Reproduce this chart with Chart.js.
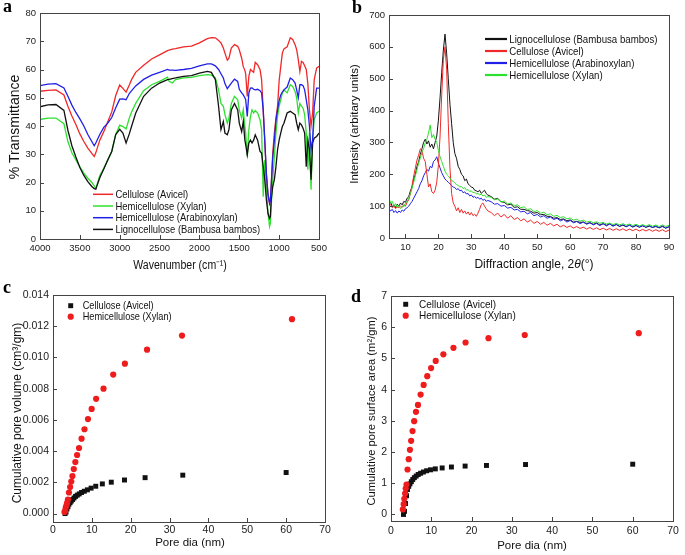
<!DOCTYPE html>
<html>
<head>
<meta charset="utf-8">
<script src="https://cdn.jsdelivr.net/npm/chart.js@4.4.1/dist/chart.umd.min.js"></script>
<style>
  body { margin: 0; background: #fff; width: 685px; height: 555px; position: relative; overflow: hidden; }
  canvas { position: absolute; }
  .tag { position: absolute; font: bold 18px "Liberation Serif", "Times New Roman", serif; line-height: 18px; color: #000; }
</style>
</head>
<body>
<canvas id="ftirChart" width="340" height="280" style="left:0;top:0"></canvas>
<canvas id="xrdChart" width="345" height="280" style="left:340px;top:0"></canvas>
<canvas id="volChart" width="340" height="280" style="left:0;top:275px"></canvas>
<canvas id="areaChart" width="345" height="280" style="left:340px;top:275px"></canvas>
<div class="tag" style="left:3px;top:-3px">a</div>
<div class="tag" style="left:352px;top:-2px">b</div>
<div class="tag" style="left:3px;top:278px">c</div>
<div class="tag" style="left:351px;top:287px">d</div>

<script>
/* ---------- (a) FTIR ---------- */
const wavenumbers = [4000, 3900, 3800, 3700, 3650, 3600, 3550, 3500, 3450, 3400, 3350, 3320, 3300, 3250, 3200, 3150, 3100, 3050, 3000, 2960,
  2920, 2880, 2850, 2800, 2700, 2600, 2500, 2400, 2380, 2340, 2300, 2200, 2100, 2000, 1900, 1850, 1800, 1760, 1730, 1700,
  1680, 1650, 1630, 1600, 1560, 1520, 1500, 1470, 1450, 1430, 1420, 1400, 1380, 1360, 1340, 1320, 1300, 1270, 1240, 1220,
  1200, 1180, 1160, 1140, 1120, 1110, 1100, 1080, 1060, 1040, 1020, 1000, 980, 960, 940, 900, 860, 830, 800, 780,
  760, 740, 720, 700, 680, 660, 640, 620, 600, 580, 560, 530, 500];
const ftirAvicel = [52.3, 52.6, 52.8, 51.0, 47.0, 43.5, 40.5, 37.2, 34.5, 32.2, 30.3, 29.2, 30.5, 35.0, 38.0, 41.5, 45.0, 50.8, 54.5, 53.3,
  52.0, 54.5, 56.5, 59.0, 61.5, 63.7, 65.2, 66.7, 66.9, 67.2, 67.4, 68.0, 68.3, 69.4, 70.9, 71.3, 71.2, 70.3, 69.4, 67.6,
  65.8, 63.3, 64.0, 67.6, 68.8, 68.2, 67.0, 64.0, 61.0, 59.7, 58.5, 50.5, 57.6, 60.0, 59.5, 59.0, 62.5, 61.7, 60.0, 56.4,
  45.7, 34.0, 23.0, 15.6, 12.6, 13.8, 18.6, 30.4, 37.5, 42.8, 47.0, 56.0, 61.0, 65.8, 67.3, 68.0, 71.2, 70.6, 68.8, 67.0,
  63.5, 59.3, 62.9, 62.5, 61.3, 60.0, 55.0, 45.7, 40.0, 44.6, 56.4, 60.5, 61.1];
const ftirXylan = [42.3, 42.8, 42.8, 40.8, 34.5, 30.5, 28.0, 25.5, 23.3, 21.5, 20.0, 18.8, 17.8, 22.5, 25.0, 28.0, 31.0, 37.0, 40.3, 39.8,
  39.0, 42.8, 45.0, 48.0, 52.5, 54.6, 55.8, 57.3, 55.8, 55.2, 56.4, 57.0, 57.2, 57.8, 58.2, 58.0, 57.0, 52.8, 48.0, 47.0,
  44.0, 41.0, 42.8, 48.0, 50.5, 49.3, 45.7, 42.8, 45.7, 39.8, 37.5, 29.2, 38.7, 43.4, 45.7, 44.6, 45.5, 44.6, 42.2, 38.7,
  15.0, 28.0, 18.6, 9.1, 4.4, 5.6, 11.5, 21.0, 29.2, 37.5, 43.4, 47.0, 49.3, 51.7, 52.8, 51.7, 54.6, 54.0, 52.2, 50.0,
  44.6, 48.0, 47.0, 46.3, 44.0, 37.5, 24.5, 37.5, 17.4, 35.0, 42.2, 44.6, 45.2];
const ftirArabinoxylan = [54.3, 54.8, 55.0, 53.5, 50.5, 47.4, 44.8, 42.5, 40.0, 37.0, 34.5, 33.0, 34.0, 37.0, 39.5, 41.0, 43.0, 46.5, 49.5, 49.6,
  49.3, 51.5, 52.5, 54.2, 56.5, 58.0, 59.0, 60.0, 59.8, 59.8, 59.7, 60.0, 60.4, 61.3, 62.0, 62.0, 61.3, 60.0, 58.5, 57.0,
  55.0, 53.2, 54.0, 55.2, 56.6, 55.8, 53.0, 51.7, 51.0, 50.0, 49.3, 43.4, 51.7, 53.4, 53.5, 53.0, 52.8, 53.0, 52.5, 51.7,
  45.7, 35.0, 23.0, 16.0, 12.6, 13.5, 18.6, 29.0, 35.0, 42.0, 45.7, 49.0, 51.0, 52.0, 52.8, 53.8, 57.0, 56.4, 55.2, 52.8,
  50.0, 54.6, 54.6, 54.3, 52.8, 49.3, 45.7, 40.0, 31.6, 35.0, 47.0, 53.4, 53.4];
const ftirBambos = [46.8, 47.5, 47.6, 45.5, 38.5, 33.0, 29.0, 25.3, 22.5, 20.3, 18.6, 17.8, 17.6, 21.7, 24.8, 28.0, 31.0, 37.0, 38.8, 37.5,
  34.0, 37.2, 40.0, 44.5, 50.5, 53.4, 55.2, 56.4, 56.5, 56.8, 57.0, 57.6, 57.8, 58.7, 59.3, 59.0, 56.4, 47.0, 38.7, 41.6,
  37.5, 36.9, 38.7, 45.7, 48.0, 45.7, 41.0, 38.0, 41.6, 35.0, 33.5, 29.8, 34.0, 35.0, 34.0, 35.0, 36.9, 35.0, 31.0, 30.4,
  25.6, 21.0, 13.8, 9.1, 7.3, 7.9, 13.8, 18.6, 21.0, 25.6, 31.6, 35.0, 37.5, 39.8, 41.0, 44.6, 45.2, 44.6, 44.0, 41.0,
  38.7, 41.0, 40.4, 39.2, 37.5, 25.6, 35.0, 31.6, 21.0, 34.0, 35.7, 36.3, 37.5];
const ftirXTicks = [4000, 3500, 3000, 2500, 2000, 1500, 1000, 500];
const ftirYTicks = [0, 10, 20, 30, 40, 50, 60, 70, 80];

/* ---------- (b) XRD ---------- */
const xrdAngles = [5, 5.5, 6, 6.5, 7, 7.5, 8, 8.5, 9, 9.5, 10, 10.5, 11, 11.5, 12, 12.5, 13, 13.5, 14, 14.5,
  15, 15.5, 16, 16.5, 17, 17.5, 18, 18.5, 19, 19.5, 20, 20.5, 21, 21.5, 22, 22.5, 23, 23.5, 24, 24.5,
  25, 25.5, 26, 26.5, 27, 27.5, 28, 28.5, 29, 29.5, 30, 30.5, 31, 31.5, 32, 32.5, 33, 33.5, 34, 34.5, 35,
  36, 37, 38, 39, 40, 41, 42, 43, 44, 45, 46, 47, 48, 49, 50, 51, 52, 53, 54, 55,
  56, 57, 58, 59, 60, 61, 62, 63, 64, 65, 66, 67, 68, 69, 70, 71, 72, 73, 74, 75,
  76, 77, 78, 79, 80, 81, 82, 83, 84, 85, 86, 87, 88, 89, 90];
const xrdBambos = [108, 112, 98, 104, 95, 106, 100, 110, 104, 115, 112, 125, 130, 148, 160, 185, 200, 225, 240, 262,
  280, 300, 310, 295, 305, 285, 295, 280, 300, 320, 370, 440, 520, 590, 640, 580, 500, 420, 360, 300,
  265, 250, 225, 215, 200, 195, 180, 185, 170, 165, 160, 158, 150, 148, 145, 150, 140, 145, 150, 140, 135,
  130, 122, 124, 114, 112, 104, 106, 96, 98, 90, 90, 86, 84, 78, 80, 73, 74, 68, 68, 62,
  64, 58, 60, 54, 57, 50, 52, 49, 50, 45, 48, 43, 47, 41, 45, 40, 44, 38, 42, 37,
  40, 36, 40, 35, 39, 34, 38, 34, 37, 33, 36, 32, 36, 31, 35];
const xrdAvicel = [100, 105, 95, 100, 92, 98, 95, 100, 96, 105, 100, 112, 120, 140, 165, 195, 220, 245, 260, 280,
  275, 250, 240, 200, 160, 170, 145, 140, 150, 175, 230, 320, 450, 560, 600, 530, 360, 220, 140, 110,
  100, 85, 95, 80, 90, 78, 85, 75, 82, 72, 80, 70, 75, 68, 78, 90, 105, 110, 100, 92, 85,
  80, 70, 78, 66, 74, 62, 70, 58, 64, 54, 60, 50, 56, 46, 52, 43, 49, 40, 46, 38,
  43, 35, 40, 33, 38, 31, 36, 30, 34, 28, 33, 27, 32, 26, 31, 25, 30, 24, 29, 24,
  29, 23, 28, 23, 28, 22, 27, 22, 27, 21, 26, 21, 26, 20, 25];
const xrdArabinoxylan = [92, 85, 90, 80, 86, 78, 85, 80, 88, 84, 92, 95, 100, 108, 115, 125, 135, 145, 155, 170,
  180, 195, 205, 215, 210, 225, 220, 240, 245, 255, 235, 220, 205, 195, 185, 180, 175, 170, 165, 160,
  158, 152, 155, 148, 150, 142, 145, 138, 140, 132, 135, 128, 130, 125, 128, 122, 125, 118, 122, 115, 118,
  114, 106, 108, 100, 102, 94, 96, 88, 90, 82, 84, 76, 80, 70, 74, 66, 70, 62, 66, 58,
  62, 54, 58, 50, 55, 48, 52, 45, 50, 43, 48, 41, 46, 39, 45, 38, 44, 37, 43, 36,
  42, 35, 41, 34, 40, 34, 40, 33, 39, 33, 38, 32, 38, 31, 36];
const xrdXylan = [125, 110, 115, 100, 108, 95, 102, 92, 100, 98, 108, 115, 125, 140, 155, 175, 195, 215, 235, 250,
  270, 280, 300, 310, 330, 355, 315, 325, 310, 300, 275, 255, 240, 225, 210, 200, 195, 188, 180, 178,
  172, 168, 165, 160, 162, 155, 158, 150, 152, 146, 148, 142, 144, 138, 140, 135, 138, 132, 135, 128, 130,
  128, 120, 122, 113, 116, 107, 110, 101, 104, 95, 98, 89, 92, 83, 86, 78, 81, 73, 76, 68,
  71, 64, 67, 60, 63, 56, 59, 53, 56, 50, 53, 48, 51, 46, 49, 44, 47, 42, 46, 41,
  45, 40, 44, 39, 43, 38, 42, 37, 42, 37, 41, 36, 41, 36, 40];
const xrdXTicks = [10, 20, 30, 40, 50, 60, 70, 80, 90];
const xrdYTicks = [0, 100, 200, 300, 400, 500, 600, 700];

/* ---------- (c) & (d) pore data ---------- */
const poreDiaAvicel = [3.1, 3.35, 3.6, 3.85, 4.1, 4.4, 4.7, 5.05, 5.4, 5.8, 6.25, 6.75, 7.35, 8.05, 8.85, 9.8, 11.0, 12.7, 15.0, 18.4, 23.7, 33.4, 60.0];
const poreVolAvicel = [0.0, 0.0001, 0.0003, 0.00045, 0.0006, 0.0007, 0.0008, 0.0009, 0.001, 0.0011, 0.00118, 0.00126, 0.00135, 0.00143,
  0.00152, 0.00163, 0.00175, 0.0019, 0.00201, 0.00215, 0.0023, 0.00246, 0.00263];
const poreAreaAvicel = [0.0, 0.1, 0.35, 0.6, 0.8, 0.9, 0.98, 1.05, 1.12, 1.18, 1.23, 1.28, 1.32, 1.36, 1.4, 1.43, 1.46, 1.49, 1.52, 1.55, 1.57, 1.6, 1.61];
const poreDiaXylan = [2.95, 3.15, 3.3, 3.5, 3.65, 3.85, 4.1, 4.4, 4.7, 5.0, 5.35, 5.75, 6.2, 6.7, 7.35, 8.1, 9.0, 9.95, 11.1, 13.0, 15.5, 18.5, 24.2, 33.2, 61.5];
const poreVolXylan = [0.0001, 0.0002, 0.0004, 0.00055, 0.0007, 0.0009, 0.00135, 0.0017, 0.00205, 0.0024, 0.00285, 0.0033, 0.00375, 0.0042,
  0.0048, 0.0054, 0.00605, 0.0067, 0.00735, 0.0080, 0.0089, 0.0096, 0.0105, 0.0114, 0.01245];
const poreAreaXylan = [0.16, 0.33, 0.5, 0.67, 0.83, 0.96, 1.44, 1.77, 2.07, 2.36, 2.67, 2.99, 3.29, 3.51, 3.84, 4.15, 4.43, 4.69, 4.92, 5.13, 5.34, 5.51, 5.65, 5.75, 5.81];
const poreXTicks = [0, 10, 20, 30, 40, 50, 60, 70];
const poreVolTicks = [0, 0.002, 0.004, 0.006, 0.008, 0.010, 0.012, 0.014];
const poreAreaTicks = [0, 1, 2, 3, 4, 5, 6, 7];

/* ---------- shared look ---------- */
const FONT = "'Liberation Sans', Arial, sans-serif";
Chart.defaults.font.family = FONT;
Chart.defaults.color = '#222';
Chart.defaults.animation = false;

const RED = '#f02828', GREEN = '#2ee02e', BLUE = '#2020e6', BLACK = '#111111';

// frame round the plot + short inward ticks
const boxTicks = {
  id: 'boxTicks',
  afterDatasetsDraw(chart) {
    const { ctx, chartArea: a, scales: { x, y } } = chart;
    ctx.save();
    ctx.strokeStyle = '#444';
    ctx.lineWidth = 1;
    ctx.strokeRect(a.left + 0.5, a.top + 0.5, a.width, a.height);
    ctx.beginPath();
    x.ticks.forEach(t => {
      const px = Math.round(x.getPixelForValue(t.value)) + 0.5;
      ctx.moveTo(px, a.bottom); ctx.lineTo(px, a.bottom - 4);
    });
    y.ticks.forEach(t => {
      const py = Math.round(y.getPixelForValue(t.value)) + 0.5;
      ctx.moveTo(a.left, py); ctx.lineTo(a.left + 4, py);
    });
    ctx.stroke();
    ctx.restore();
  }
};

// draws text narrowed by `squeeze`; parts = [[text, italic], ...]
function squeezedText(ctx, parts, size, squeeze) {
  const fontOf = it => (it ? 'italic ' : '') + size + 'px ' + FONT;
  let total = 0;
  parts.forEach(p => { ctx.font = fontOf(p[1]); total += ctx.measureText(p[0]).width; });
  ctx.scale(squeeze, 1);
  let x = -total / 2;
  ctx.textAlign = 'left';
  parts.forEach(p => { ctx.font = fontOf(p[1]); ctx.fillText(p[0], x, 0); x += ctx.measureText(p[0]).width; });
}

// axis titles placed by hand, so that the narrow lettering of the figure can be kept
const axisTitles = {
  id: 'axisTitles',
  afterDraw(chart, args, o) {
    const ctx = chart.ctx;
    ctx.save();
    ctx.fillStyle = '#111';
    ctx.textBaseline = 'middle';
    if (o.x) {
      ctx.save(); ctx.translate(o.x.cx, o.x.cy);
      squeezedText(ctx, o.x.parts, o.x.size, o.x.squeeze); ctx.restore();
    }
    if (o.y) {
      ctx.save(); ctx.translate(o.y.cx, o.y.cy); ctx.rotate(-Math.PI / 2);
      squeezedText(ctx, o.y.parts, o.y.size, o.y.squeeze); ctx.restore();
    }
    ctx.restore();
  }
};

// legend drawn inside the plot, in dataset order
const insetLegend = {
  id: 'insetLegend',
  afterDraw(chart, args, o) {
    if (!o || o.top === undefined) return;
    const ctx = chart.ctx;
    ctx.save();
    ctx.textBaseline = 'middle';
    chart.data.datasets.forEach((ds, i) => {
      const y = o.top + i * o.row;
      if (o.markers) {
        ctx.fillStyle = ds.backgroundColor;
        ctx.strokeStyle = ds.backgroundColor;
        Chart.helpers.drawPoint(ctx, { pointStyle: ds.pointStyle, radius: ds.pointRadius, rotation: 0, borderWidth: 0 }, o.x, y);
      } else {
        ctx.strokeStyle = ds.borderColor;
        ctx.lineWidth = o.lineWidth;
        ctx.beginPath();
        ctx.moveTo(o.x, y); ctx.lineTo(o.x + o.len, y);
        ctx.stroke();
      }
      ctx.fillStyle = '#111';
      ctx.save();
      ctx.translate(o.textX, y + 0.5);
      ctx.scale(o.squeeze, 1);
      ctx.font = o.size + 'px ' + FONT;
      ctx.fillText(ds.label, 0, 0);
      ctx.restore();
    });
    ctx.restore();
  }
};

function axis(min, max, tickValues, size, tickSize, fmt, extra) {
  return Object.assign({
    type: 'linear', min: min, max: max,
    grid: { display: false, drawTicks: false },
    border: { display: false },
    afterBuildTicks: s => { s.ticks = tickValues.map(v => ({ value: v })); },
    afterFit: s => { if (s.isHorizontal()) s.height = size; else s.width = size; },
    ticks: { padding: 4, font: { size: tickSize }, color: '#222', callback: fmt },
    title: { display: false }
  }, extra || {});
}

const xy = (xs, ys) => xs.map((x, i) => ({ x: x, y: ys[i] }));

function lineSet(label, xs, ys, color, order, width) {
  return { label: label, data: xy(xs, ys), borderColor: color, backgroundColor: color,
           borderWidth: width, pointRadius: 0, tension: 0, order: order };
}

function dotSet(label, xs, ys, color, style, radius, order) {
  return { label: label, data: xy(xs, ys), backgroundColor: color, borderColor: color, borderWidth: 0,
           pointStyle: style, pointRadius: radius, pointHoverRadius: radius, showLine: false, order: order };
}

/* ---------- (a) ---------- */
new Chart(document.getElementById('ftirChart'), {
  type: 'line',
  data: { datasets: [
    lineSet('Cellulose (Avicel)', wavenumbers, ftirAvicel, RED, 1, 1.3),
    lineSet('Hemicellulose (Xylan)', wavenumbers, ftirXylan, GREEN, 3, 1.3),
    lineSet('Hemicellulose (Arabinoxylan)', wavenumbers, ftirArabinoxylan, BLUE, 0, 1.3),
    lineSet('Lignocellulose (Bambusa bambos)', wavenumbers, ftirBambos, BLACK, 2, 1.3)
  ] },
  options: {
    responsive: false,
    layout: { padding: { top: 13, right: 21, left: 0, bottom: 0 } },
    plugins: { legend: { display: false }, tooltip: { enabled: false },
      insetLegend: { x: 93, len: 20, textX: 115.5, top: 194.3, row: 11.7, lineWidth: 1.5, size: 11.5, squeeze: 0.82 },
      axisTitles: {
        x: { parts: [['Wavenumber (cm\u207B\u00B9)', false]], cx: 180, cy: 266, size: 12, squeeze: 0.88 },
        y: { parts: [['% Transmittance', false]], cx: 15, cy: 127, size: 14, squeeze: 1 }
      } },
    scales: {
      x: axis(500, 4000, ftirXTicks, 41, 9.5, v => String(v), { reverse: true }),
      y: axis(0, 80, ftirYTicks, 40, 9.5, v => String(v))
    }
  },
  plugins: [boxTicks, insetLegend, axisTitles]
});

/* ---------- (b) ---------- */
new Chart(document.getElementById('xrdChart'), {
  type: 'line',
  data: { datasets: [
    lineSet('Lignocellulose (Bambusa bambos)', xrdAngles, xrdBambos, BLACK, 3, 1),
    lineSet('Cellulose (Avicel)', xrdAngles, xrdAvicel, RED, 1, 1),
    lineSet('Hemicellulose (Arabinoxylan)', xrdAngles, xrdArabinoxylan, BLUE, 2, 1),
    lineSet('Hemicellulose (Xylan)', xrdAngles, xrdXylan, GREEN, 0, 1)
  ] },
  options: {
    responsive: false,
    layout: { padding: { top: 15, right: 16, left: 0, bottom: 0 } },
    plugins: { legend: { display: false }, tooltip: { enabled: false },
      insetLegend: { x: 145, len: 22, textX: 169.3, top: 39, row: 12, lineWidth: 2.2, size: 11.5, squeeze: 0.84 },
      axisTitles: {
        x: { parts: [['Diffraction angle, 2', false], ['\u03B8', true], ['(\u00B0)', false]], cx: 194, cy: 265, size: 12, squeeze: 1 },
        y: { parts: [['Intensity (arbitary units)', false]], cx: 15, cy: 124, size: 11.5, squeeze: 1 }
      } },
    scales: {
      x: axis(5, 90, xrdXTicks, 42, 9.5, v => String(v)),
      y: axis(0, 700, xrdYTicks, 49, 9.5, v => String(v))
    }
  },
  plugins: [boxTicks, insetLegend, axisTitles]
});

/* ---------- (c) ---------- */
new Chart(document.getElementById('volChart'), {
  type: 'scatter',
  data: { datasets: [
    dotSet('Cellulose (Avicel)', poreDiaAvicel, poreVolAvicel, BLACK, 'rect', 3.5, 1),
    dotSet('Hemicellulose (Xylan)', poreDiaXylan, poreVolXylan, '#ee1c1c', 'circle', 3.1, 0)
  ] },
  options: {
    responsive: false,
    layout: { padding: { top: 20, right: 15, left: 0, bottom: 0 } },
    plugins: { legend: { display: false }, tooltip: { enabled: false },
      insetLegend: { markers: true, x: 70.7, textX: 82.7, top: 30.7, row: 11, size: 11.5, squeeze: 0.8 },
      axisTitles: {
        x: { parts: [['Pore dia (nm)', false]], cx: 190, cy: 268, size: 11.5, squeeze: 1 },
        y: { parts: [['Cumulative pore volume (cm\u00B3/gm)', false]], cx: 18, cy: 138, size: 12, squeeze: 1 }
      } },
    scales: {
      x: axis(0, 70, poreXTicks, 33, 10.5, v => String(v), { ticks: { padding: 2, font: { size: 10.5 }, color: '#222', callback: v => String(v) } }),
      y: axis(-0.00054, 0.014, poreVolTicks, 53, 10.5, v => v.toFixed(3))
    }
  },
  plugins: [boxTicks, insetLegend, axisTitles]
});

/* ---------- (d) ---------- */
new Chart(document.getElementById('areaChart'), {
  type: 'scatter',
  data: { datasets: [
    dotSet('Cellulose (Avicel)', poreDiaAvicel, poreAreaAvicel, BLACK, 'rect', 3.5, 1),
    dotSet('Hemicellulose (Xylan)', poreDiaXylan, poreAreaXylan, '#ee1c1c', 'circle', 3.1, 0)
  ] },
  options: {
    responsive: false,
    layout: { padding: { top: 21, right: 12, left: 0, bottom: 0 } },
    plugins: { legend: { display: false }, tooltip: { enabled: false },
      insetLegend: { markers: true, x: 65.7, textX: 79, top: 29.3, row: 11.4, size: 11.5, squeeze: 0.87 },
      axisTitles: {
        x: { parts: [['Pore dia (nm)', false]], cx: 192, cy: 271, size: 11.5, squeeze: 1 },
        y: { parts: [['Cumulative pore surface area (m\u00B2/gm)', false]], cx: 32, cy: 136, size: 11.2, squeeze: 1 }
      } },
    scales: {
      x: axis(0, 70, poreXTicks, 34, 10.5, v => String(v)),
      y: axis(-0.21, 7, poreAreaTicks, 51, 10.5, v => String(v))
    }
  },
  plugins: [boxTicks, insetLegend, axisTitles]
});
</script>
</body>
</html>
